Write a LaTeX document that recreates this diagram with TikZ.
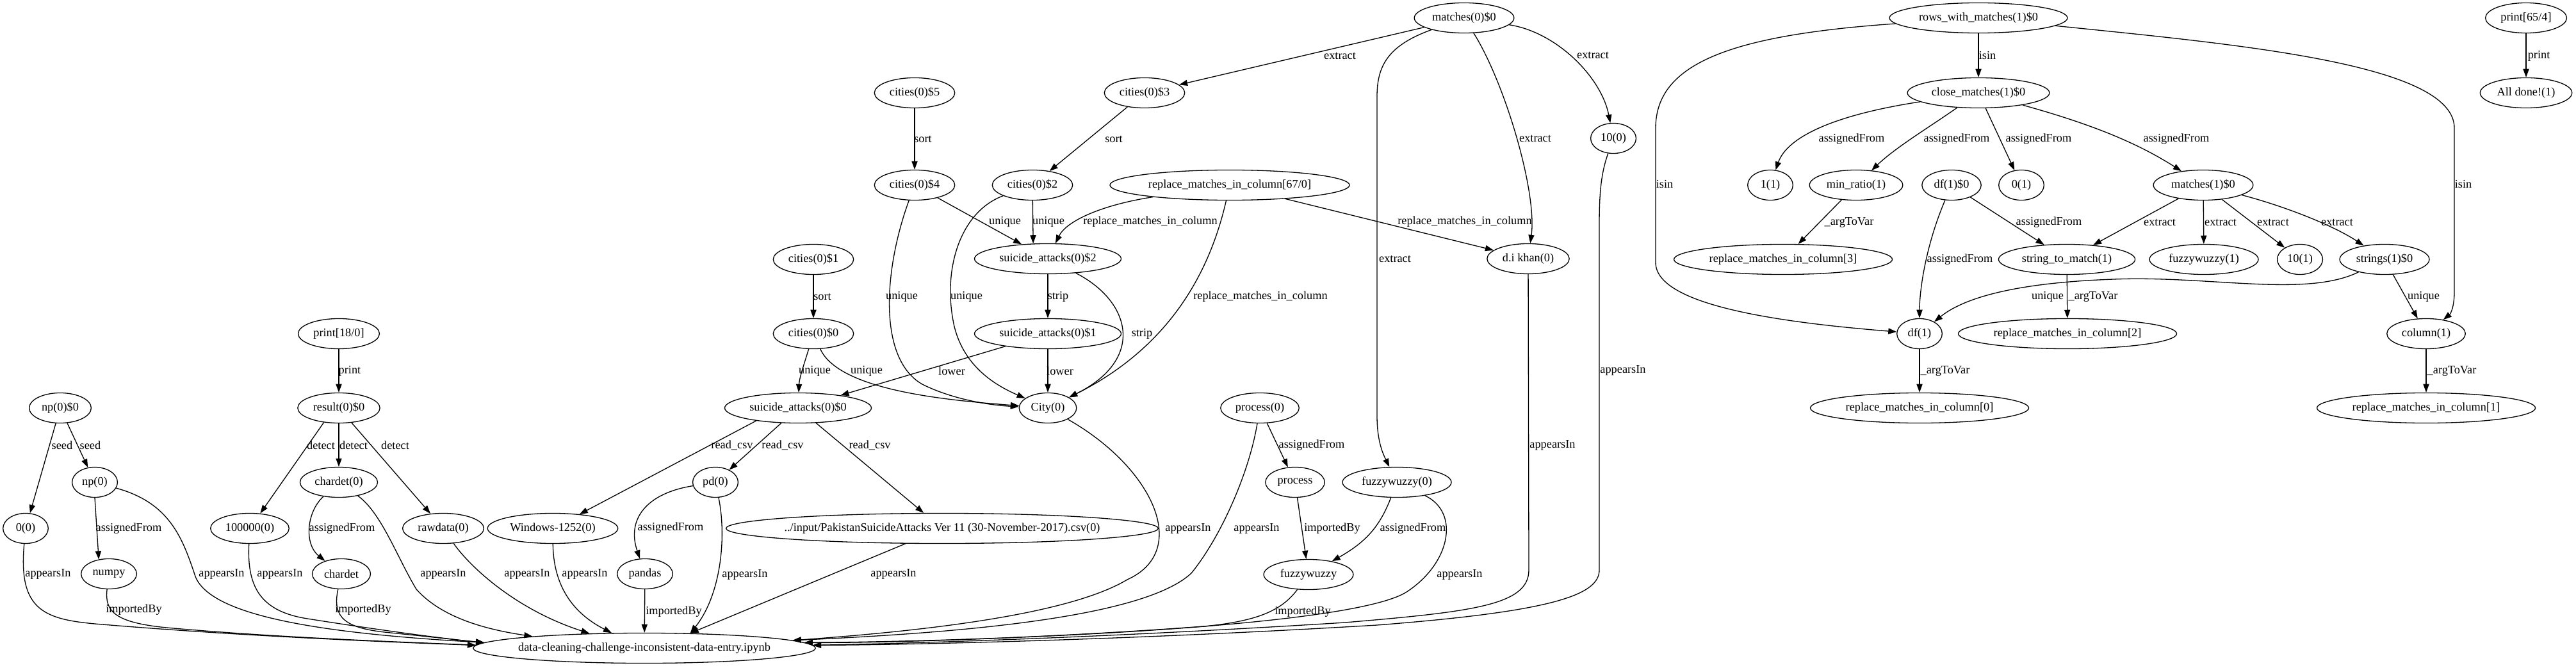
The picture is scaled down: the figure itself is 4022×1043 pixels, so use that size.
\documentclass[tikz,border=0pt]{standalone}
\usepackage{fontspec}
\setmainfont{Liberation Serif}
\usetikzlibrary{shapes}
\usetikzlibrary{arrows.meta}

\tikzset{
obj/.style={draw, ellipse, line width=1pt, minimum width=54pt, minimum height=36pt, inner xsep=4pt, inner ysep=0pt, font=\fontsize{14}{16}\selectfont},
wide/.style={inner xsep=-6pt},
elab/.style={inner sep=0pt, font=\fontsize{14}{16}\selectfont},
link/.style={line width=1pt, -{Triangle[length=10pt,width=7pt]}}
}

\begin{document}
\begin{tikzpicture}[x=0.765pt,y=-0.765pt]
\useasboundingbox (0,0) rectangle (4022,1043);

%top rows
\node[obj] (m0) at (2286,28) {matches(0)\$0};
\node[obj] (rwm) at (3089,28) {rows\_with\_matches(1)\$0};
\node[obj] (pra) at (3944,28) {print[65/4]};
\node[obj] (c5) at (1428,145) {cities(0)\$5};
\node[obj] (c3) at (1787,145) {cities(0)\$3};
\node[obj] (cm) at (3089,145) {close\_matches(1)\$0};
\node[obj] (done) at (3944,145) {All done!(1)};
\node[obj] (tenA) at (2519,216) {10(0)};

%cities and matches
\node[obj] (c4) at (1428,289) {cities(0)\$4};
\node[obj] (c2) at (1612,289) {cities(0)\$2};
\node[obj] (rmc) at (1920,289) {replace\_matches\_in\_column[67/0]};
\node[obj] (oneB) at (2764,289) {1(1)};
\node[obj] (mr) at (2898,289) {min\_ratio(1)};
\node[obj] (dfB0) at (3047,289) {df(1)\$0};
\node[obj] (zeroB) at (3156,289) {0(1)};
\node[obj] (mB) at (3440,289) {matches(1)\$0};
\node[obj] (c1) at (1270,405) {cities(0)\$1};
\node[obj] (sa2) at (1636,404) {suicide\_attacks(0)\$2};
\node[obj] (dik) at (2386,404) {d.i khan(0)};
\node[obj] (rmc3) at (2784,405) {replace\_matches\_in\_column[3]};
\node[obj] (stm) at (3227,405) {string\_to\_match(1)};
\node[obj] (fwB) at (3441,405) {fuzzywuzzy(1)};
\node[obj] (tenB) at (3591,405) {10(1)};
\node[obj] (strB) at (3723,405) {strings(1)\$0};
\node[obj] (prb) at (529,521) {print[18/0]};
\node[obj] (c0) at (1270,521) {cities(0)\$0};
\node[obj] (sa1) at (1636,521) {suicide\_attacks(0)\$1};
\node[obj] (dfB) at (2997,521) {df(1)};
\node[obj] (rmc2) at (3228,521) {replace\_matches\_in\_column[2]};
\node[obj] (colB) at (3788,521) {column(1)};

%lower rows
\node[obj] (np0s) at (94,637) {np(0)\$0};
\node[obj] (res) at (529,637) {result(0)\$0};
\node[obj] (sa0) at (1246,637) {suicide\_attacks(0)\$0};
\node[obj] (city) at (1636,637) {City(0)};
\node[obj] (proc0) at (1967,637) {process(0)};
\node[obj] (rmc0) at (2997,637) {replace\_matches\_in\_column[0]};
\node[obj] (rmc1) at (3788,637) {replace\_matches\_in\_column[1]};
\node[obj] (np0) at (148,753) {np(0)};
\node[obj] (chd0) at (529,753) {chardet(0)};
\node[obj] (pd0) at (1117,753) {pd(0)};
\node[obj] (proc) at (2022,753) {process};
\node[obj] (fw0) at (2181,753) {fuzzywuzzy(0)};
\node[obj] (zero0) at (40,825) {0(0)};
\node[obj] (k100) at (390,825) {100000(0)};
\node[obj] (raw) at (692,825) {rawdata(0)};
\node[obj] (win) at (863,825) {Windows-1252(0)};
\node[obj, wide] (csv) at (1471,825) {../input/PakistanSuicideAttacks Ver 11 (30-November-2017).csv(0)};
\node[obj] (numpy) at (170,896) {numpy};
\node[obj] (chd) at (533,896) {chardet};
\node[obj] (pandas) at (1007,896) {pandas};
\node[obj] (fw) at (2043,897) {fuzzywuzzy};

%notebook
\node[obj, wide] (dc) at (1006,1012) {data-cleaning-challenge-inconsistent-data-entry.ipynb};

%matches(0)
\draw[link] (m0) -- (c3) node[elab] at (2092,87) {extract};
\draw[link] (m0) .. controls (2350,130) and (2400,300) .. (dik) node[elab] at (2397,216) {extract};
\draw[link] (m0) .. controls (2430,50) and (2500,120) .. (tenA) node[elab] at (2487,86) {extract};
\draw[link] (m0) .. controls (2170,70) and (2150,100) .. (2150,150) -- (2150,650) .. controls (2150,690) and (2160,710) .. (fw0) node[elab] at (2178,404) {extract};

%cities
\draw[link] (c5) -- (c4) node[elab] at (1441,217) {sort};
\draw[link] (c3) -- (c2) node[elab] at (1739,217) {sort};
\draw[link] (c4) -- (sa2) node[elab] at (1569,346) {unique};
\draw[link] (c2) -- (sa2.134) node[elab] at (1637,346) {unique};
\draw[link] (rmc) .. controls (1720,320) and (1665,345) .. (sa2) node[elab] at (1796,346) {replace\_matches\_in\_column};
\draw[link] (rmc) -- (dik) node[elab] at (2287,346) {replace\_matches\_in\_column};
\draw[link] (rmc) .. controls (1890,420) and (1830,540) .. (city) node[elab] at (1968,463) {replace\_matches\_in\_column};
\draw[link] (sa2) -- (sa1) node[elab] at (1652,463) {strip};
\draw[link] (sa2) .. controls (1765,470) and (1790,560) .. (city) node[elab] at (1783,521) {strip};
\draw[link] (sa1) -- (sa0) node[elab] at (1486,579) {lower};
\draw[link] (sa1) -- (city) node[elab] at (1655,579) {lower};
\draw[link] (c4) .. controls (1380,420) and (1370,560) .. (1440,600) .. controls (1490,625) and (1550,633) .. (city) node[elab] at (1408,463) {unique};
\draw[link] (c2) .. controls (1500,330) and (1470,420) .. (1490,510) .. controls (1505,570) and (1550,600) .. (city) node[elab] at (1509,463) {unique};
\draw[link] (c1) -- (c0) node[elab] at (1284,463) {sort};
\draw[link] (c0) .. controls (1255,570) and (1248,590) .. (sa0) node[elab] at (1272,579) {unique};
\draw[link] (c0) .. controls (1310,610) and (1480,625) .. (city) node[elab] at (1353,579) {unique};

%suicide_attacks(0)$0
\draw[link] (sa0.197) -- (win) node[elab] at (1143,695) {read\_csv};
\draw[link] (sa0) -- (pd0) node[elab] at (1222,695) {read\_csv};
\draw[link] (sa0) -- (csv) node[elab] at (1358,695) {read\_csv};
\draw[link] (pd0) .. controls (1010,770) and (978,810) .. (pandas) node[elab] at (1047,824) {assignedFrom};

%print and result
\draw[link] (prb) -- (res) node[elab] at (546,579) {print};
\draw[link] (res.224) -- (k100) node[elab] at (501,695) {detect};
\draw[link] (res) -- (chd0) node[elab] at (552,695) {detect};
\draw[link] (res) -- (raw) node[elab] at (617,695) {detect};
\draw[link] (chd0) .. controls (478,800) and (475,850) .. (chd) node[elab] at (534,825) {assignedFrom};

%np
\draw[link] (np0s) -- (zero0) node[elab] at (97,695) {seed};
\draw[link] (np0s) -- (np0) node[elab] at (141,695) {seed};
\draw[link] (np0.south) -- (numpy.125) node[elab] at (201,825) {assignedFrom};

%into the notebook, left
\draw[link] (zero0) .. controls (28,955) and (70,968) .. (160,975) .. controls (400,995) and (650,1004) .. (dc.179) node[elab] at (75,896) {appearsIn};
\draw[link] (numpy) .. controls (163,955) and (180,972) .. (260,980) .. controls (450,997) and (650,1003) .. (dc.179) node[elab] at (209,952) {importedBy};
\draw[link] (np0) .. controls (265,785) and (285,840) .. (305,900) .. controls (330,965) and (520,990) .. (dc.178) node[elab] at (346,896) {appearsIn};
\draw[link] (k100) .. controls (385,920) and (410,955) .. (480,966) .. controls (600,985) and (700,998) .. (dc.178) node[elab] at (437,896) {appearsIn};
\draw[link] (chd) .. controls (518,965) and (540,980) .. (600,987) .. controls (680,995) and (720,1000) .. (dc.178) node[elab] at (567,952) {importedBy};
\draw[link] (chd0) .. controls (595,800) and (620,870) .. (650,920) .. controls (690,965) and (760,983) .. (dc.174) node[elab] at (692,896) {appearsIn};
\draw[link] (raw) .. controls (730,880) and (800,950) .. (dc.165) node[elab] at (823,896) {appearsIn};
\draw[link] (win) .. controls (864,910) and (890,955) .. (dc.155) node[elab] at (913,896) {appearsIn};
\draw[link] (pandas) -- (dc) node[elab] at (1052,955) {importedBy};
\draw[link] (pd0) .. controls (1135,840) and (1125,930) .. (dc.18) node[elab] at (1163,897) {appearsIn};
\draw[link] (csv) -- (dc.18) node[elab] at (1395,896) {appearsIn};

%into the notebook, right
\draw[link] (city) .. controls (1800,730) and (1860,860) .. (1760,905) .. controls (1660,965) and (1400,988) .. (dc.3) node[elab] at (1855,825) {appearsIn};
\draw[link] (proc0) .. controls (1950,740) and (1905,840) .. (1860,895) .. controls (1780,970) and (1450,990) .. (dc.3) node[elab] at (1962,825) {appearsIn};
\draw[link] (fw) .. controls (2000,955) and (1960,970) .. (1880,978) .. controls (1650,995) and (1400,1004) .. (dc.2) node[elab] at (2034,955) {importedBy};
\draw[link] (fw0) .. controls (2280,800) and (2265,880) .. (2195,925) .. controls (2100,982) and (1500,1002) .. (dc.2) node[elab] at (2279,897) {appearsIn};
\draw[link] (dik) -- (2387,890) .. controls (2387,945) and (2300,955) .. (2100,972) .. controls (1700,997) and (1400,1005) .. (dc.1) node[elab] at (2424,695) {appearsIn};
\draw[link] (tenA) .. controls (2500,270) and (2497,300) .. (2497,350) -- (2497,890) .. controls (2497,930) and (2420,955) .. (2150,976) .. controls (1750,1000) and (1400,1007) .. (dc.1) node[elab] at (2534,578) {appearsIn};

%process
\draw[link] (proc0) -- (proc) node[elab] at (2048,695) {assignedFrom};
\draw[link] (proc) -- (fw) node[elab] at (2080,825) {importedBy};
\draw[link] (fw0) .. controls (2155,820) and (2135,845) .. (fw) node[elab] at (2206,825) {assignedFrom};

%rows_with_matches
\draw[link] (rwm) -- (cm) node[elab] at (3103,87) {isin};
\draw[link] (rwm) .. controls (2700,55) and (2585,100) .. (2585,200) -- (2585,410) .. controls (2585,480) and (2800,505) .. (dfB) node[elab] at (2599,288) {isin};
\draw[link] (rwm) .. controls (3500,70) and (3832,100) .. (3832,200) -- (3832,455) .. controls (3832,480) and (3826,490) .. (colB) node[elab] at (3846,288) {isin};
\draw[link] (cm) .. controls (2860,180) and (2790,215) .. (oneB) node[elab] at (2891,217) {assignedFrom};
\draw[link] (cm) .. controls (3010,200) and (2960,230) .. (mr) node[elab] at (3055,217) {assignedFrom};
\draw[link] (cm) -- (zeroB) node[elab] at (3183,217) {assignedFrom};
\draw[link] (cm) .. controls (3270,195) and (3340,225) .. (mB) node[elab] at (3398,217) {assignedFrom};
\draw[link] (mr) -- (rmc3) node[elab] at (2887,347) {\_argToVar};
\draw[link] (dfB0) -- (stm) node[elab] at (3199,347) {assignedFrom};
\draw[link] (dfB0) .. controls (3008,380) and (2997,450) .. (dfB) node[elab] at (3060,405) {assignedFrom};
\draw[link] (mB) -- (stm) node[elab] at (3372,347) {extract};
\draw[link] (mB) -- (fwB) node[elab] at (3467,347) {extract};
\draw[link] (mB) -- (tenB) node[elab] at (3549,347) {extract};
\draw[link] (mB) .. controls (3560,320) and (3640,350) .. (strB) node[elab] at (3649,347) {extract};
\draw[link] (strB) .. controls (3600,465) and (3450,430) .. (3300,436) .. controls (3130,442) and (3060,470) .. (dfB) node[elab] at (3197,463) {unique};
\draw[link] (strB) -- (colB) node[elab] at (3784,463) {unique};
\draw[link] (stm) -- (rmc2) node[elab] at (3268,463) {\_argToVar};
\draw[link] (dfB) -- (rmc0) node[elab] at (3037,579) {\_argToVar};
\draw[link] (colB) -- (rmc1) node[elab] at (3828,579) {\_argToVar};
\draw[link] (pra) -- (done) node[elab] at (3964,87) {print};

\end{tikzpicture}
\end{document}
